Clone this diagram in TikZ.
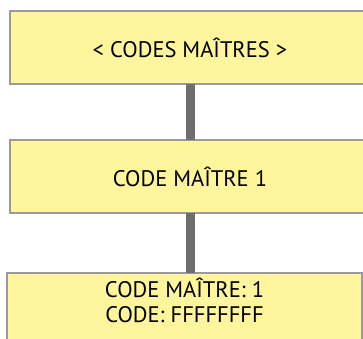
\documentclass[tikz,border=0pt]{standalone}
\usepackage{fontspec}
\setmainfont{PT Sans}
\usetikzlibrary{positioning}
\definecolor{boxfill}{HTML}{FFF59D}
\definecolor{boxline}{HTML}{9A9A9A}
\definecolor{linkgray}{HTML}{6D6D72}

\begin{document}
\begin{tikzpicture}[x=1pt, y=1pt, node distance=56pt,
    codebox/.style={rectangle, fill=boxfill, draw=boxline, line width=2pt,
                    minimum width=360pt, minimum height=73pt, outer sep=0pt,
                    text centered, font=\fontsize{22.5}{24.5}\selectfont},
    link/.style={draw=linkgray, line width=9pt}
]
\useasboundingbox (0,0) rectangle (363,-338);
\clip (0,0) rectangle (363,-338);
\node (master) [codebox] at (190,-47.5) {< CODES MAÎTRES >};
\node (one)    [codebox, below=of master] {CODE MAÎTRE 1};
\node (detail) [codebox, below=60pt of one, xshift=-5.5pt, minimum width=355pt,
                minimum height=0pt, align=center, inner ysep=5pt, text depth=50pt]
               {CODE MAÎTRE: 1\\CODE: FFFFFFFF};

\draw [link] (master) -- (one);
\draw [link] (one) -- (one |- detail.north);
\end{tikzpicture}
\end{document}
